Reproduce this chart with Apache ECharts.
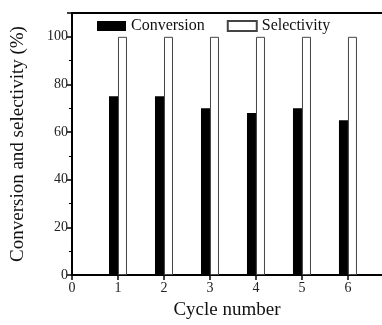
<!DOCTYPE html>
<html>
<head>
<meta charset="utf-8">
<script src="https://cdn.jsdelivr.net/npm/echarts@6/dist/echarts.min.js"></script>
<style>
html, body { margin: 0; padding: 0; background: #fff; }
#chart { width: 382px; height: 325px; }
</style>
</head>
<body>
<div id="chart"></div>
<script>
const cycles = [1, 2, 3, 4, 5, 6];
const conversion = [75, 75, 70, 68, 70, 65];
const selectivity = [100, 100, 100, 100, 100, 100];

let chartDom = document.getElementById('chart');
let myChart = echarts.init(chartDom);
const font = '"Liberation Serif", "Times New Roman", serif';

let option = {
    animation: false,
    textStyle: { fontFamily: font },
    legend: {
        left: 92,
        top: 13,
        icon: 'rect',
        itemWidth: 29,
        itemHeight: 10,
        itemGap: 22,
        textStyle: { fontFamily: font, fontSize: 16, color: '#111' },
        data: ['Conversion', 'Selectivity']
    },
    grid: {
        left: 72,
        right: 0,
        top: 13,
        bottom: 45
    },
    xAxis: [{
        type: 'value',
        min: 0,
        max: 6.74,
        interval: 1,
        name: 'Cycle number',
        nameLocation: 'middle',
        nameGap: 26,
        nameTextStyle: { fontFamily: font, fontSize: 19, color: '#111' },
        splitLine: { show: false },
        axisLine: { lineStyle: { color: '#000', width: 2 } },
        axisTick: { show: true, length: 5, lineStyle: { color: '#000', width: 1.5 } },
        axisLabel: {
            fontFamily: font, fontSize: 14, color: '#222', margin: 6,
            showMaxLabel: false,
            formatter: function (v) { return v <= 6 ? v : ''; }
        }
    }, {
        type: 'value',
        position: 'top',
        min: 0,
        max: 6.74,
        axisLine: { show: true, lineStyle: { color: '#000', width: 2 } },
        axisTick: { show: false },
        axisLabel: { show: false },
        splitLine: { show: false }
    }],
    yAxis: {
        type: 'value',
        min: 0,
        max: 110,
        interval: 20,
        name: 'Conversion and selectivity (%)',
        nameLocation: 'middle',
        nameGap: 44,
        nameTextStyle: { fontFamily: font, fontSize: 19, color: '#111' },
        splitLine: { show: false },
        axisLine: { show: true, lineStyle: { color: '#000', width: 2 } },
        axisTick: { show: true, length: 5, lineStyle: { color: '#000', width: 1.5 } },
        minorTick: { show: true, splitNumber: 2, length: 3, lineStyle: { color: '#000', width: 1 } },
        axisLabel: {
            fontFamily: font, fontSize: 14, color: '#222', margin: 4,
            formatter: function (v) { return v <= 100 ? v : ''; }
        }
    },
    series: [{
        name: 'Conversion',
        type: 'bar',
        barWidth: 9,
        barGap: '0%',
        itemStyle: { color: '#000' },
        data: cycles.map((c, i) => [c, conversion[i]])
    }, {
        name: 'Selectivity',
        type: 'bar',
        barWidth: 9,
        barGap: '0%',
        itemStyle: { color: '#fff', borderColor: '#444', borderWidth: 1 },
        data: cycles.map((c, i) => [c, selectivity[i]])
    }]
};

option && myChart.setOption(option);
</script>
</body>
</html>
